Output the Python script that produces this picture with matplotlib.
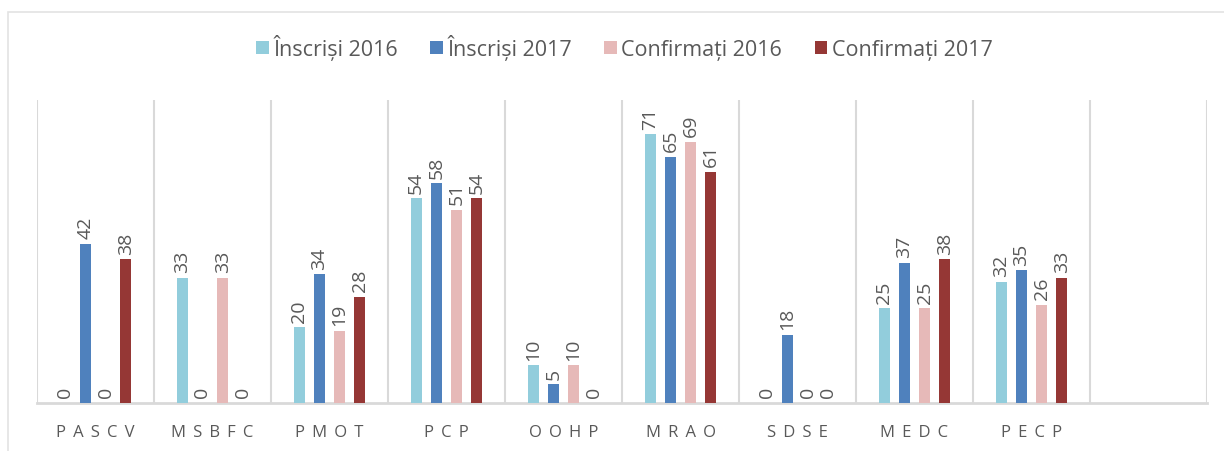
import matplotlib
matplotlib.use('Agg')
import matplotlib.pyplot as plt
from matplotlib.patches import Rectangle
import numpy as np

plt.rcParams['font.family'] = ['Open Sans', 'DejaVu Sans']

# data
categories = ['PASCV', 'MSBFC', 'PMOT', 'PCP', 'OOHP', 'MRAO', 'SDSE', 'MEDC', 'PECP']
inscrisi_2016 = [0, 33, 20, 54, 10, 71, 0, 25, 32]
inscrisi_2017 = [42, 0, 34, 58, 5, 65, 18, 37, 35]
confirmati_2016 = [0, 33, 19, 51, 10, 69, 0, 25, 26]
confirmati_2017 = [38, 0, 28, 54, 0, 61, 0, 38, 33]
series_names = ['Înscriși 2016', 'Înscriși 2017', 'Confirmați 2016', 'Confirmați 2017']
colors = ['#92CDDC', '#4F81BD', '#E6B9B8', '#953735']

n_slots = 10  # last slot is empty in the original
text_col = '#595959'
grid_col = '#D9D9D9'

fig = plt.figure(figsize=(12.24, 4.52), dpi=100)
# light outer frame
fig.patches.append(Rectangle((8 / 1224, -0.01), 1.02, 1 - 13 / 452 + 0.01,
                             transform=fig.transFigure, fill=False,
                             edgecolor='#E3E3E3', linewidth=1.2))

ax = fig.add_axes([37 / 1224, 1 - 404 / 452, (1207 - 37) / 1224, (404 - 101) / 452])

series = [inscrisi_2016, inscrisi_2017, confirmati_2016, confirmati_2017]
x = np.arange(len(categories))
pitch = 0.173
width = 0.094
offsets = (np.arange(4) - 1.5) * pitch

for vals, name, col, off in zip(series, series_names, colors, offsets):
    bars = ax.bar(x + off, vals, width=width, color=col, label=name, zorder=3)
    for b, v in zip(bars, vals):
        ax.annotate(str(v), (b.get_x() + b.get_width() / 2, v),
                    xytext=(0, 4), textcoords='offset points',
                    rotation=90, ha='center', va='bottom',
                    fontsize=14, color=text_col)

ax.set_xlim(-0.5, n_slots - 0.5)
ax.set_ylim(0, 80)

for b in np.arange(n_slots + 1) - 0.5:
    ax.axvline(b, color=grid_col, linewidth=1.5, zorder=1)

for s in ['top', 'left', 'right']:
    ax.spines[s].set_visible(False)
ax.spines['bottom'].set_color(grid_col)
ax.spines['bottom'].set_linewidth(2)

ax.set_yticks([])
ax.set_xticks(x)
# letter spaced category names (space + thin space)
ax.set_xticklabels([' \u2009'.join(c) for c in categories], fontsize=12, color=text_col)
ax.tick_params(axis='x', length=0, pad=15)

leg = fig.legend(loc='center', bbox_to_anchor=(0.51, 1 - 48 / 452), ncol=4,
                 frameon=False, fontsize=15.5, handlelength=0.6, handleheight=0.6,
                 handletextpad=0.2, columnspacing=1.5)
for t in leg.get_texts():
    t.set_color(text_col)

fig.savefig('out.png', dpi=100)
